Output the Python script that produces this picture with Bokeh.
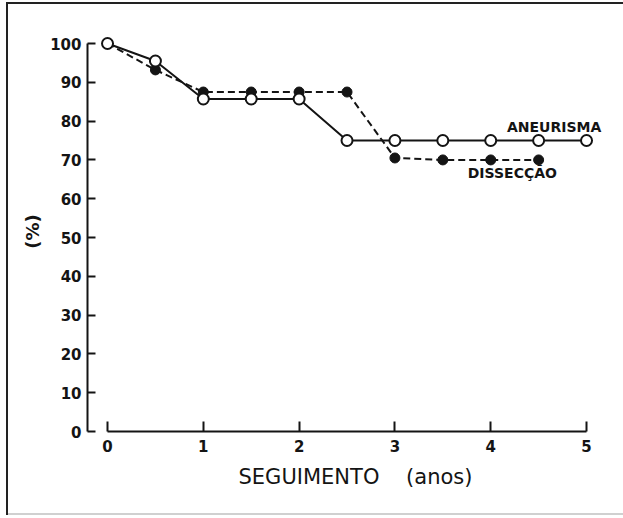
from bokeh.plotting import figure
from bokeh.models import Range1d, FixedTicker, LinearAxis
from bokeh.core.properties import value
from bokeh.embed import file_html
from bokeh.resources import INLINE

# ---- data ----
years_aneurisma = [0, 0.5, 1, 1.5, 2, 2.5, 3, 3.5, 4, 4.5, 5]
pct_aneurisma = [100, 95.5, 85.7, 85.7, 85.7, 75, 75, 75, 75, 75, 75]

years_disseccao = [0, 0.5, 1, 1.5, 2, 2.5, 3, 3.5, 4, 4.5]
pct_disseccao = [100, 93.2, 87.5, 87.5, 87.5, 87.5, 70.5, 70, 70, 70]

x_ticks = [0, 1, 2, 3, 4, 5]
y_ticks = [0, 10, 20, 30, 40, 50, 60, 70, 80, 90, 100]

series_names = ["ANEURISMA", "DISSECÇÃO"]
x_title = "SEGUIMENTO\u00a0\u00a0\u00a0\u00a0(anos)"
y_title = "(%)"

INK = "#141414"
FONT = "DejaVu Sans"

p = figure(
    output_backend="svg", toolbar_location=None,
    frame_width=536, frame_height=400,
    min_border_left=87, min_border_right=0, min_border_top=31, min_border_bottom=87,
    x_range=Range1d(-0.209, 5.386), y_range=Range1d(0, 103.1),
    background_fill_color="white", border_fill_color=None,
)
p.outline_line_color = None
p.grid.visible = False
p.styles = {"box-shadow": (
    "inset 6px 0 0 0 white, inset 0 2px 0 0 white, inset 0 -3px 0 0 white, "
    "inset 8px 0 0 0 #222, inset 0 4px 0 0 #222, inset 0 -5px 0 0 #d0d0d0"
)}

# axes
p.xaxis.bounds = (0, 5)
p.xaxis.ticker = FixedTicker(ticks=x_ticks)
p.yaxis.bounds = (0, 100)
p.yaxis.ticker = FixedTicker(ticks=y_ticks)
for ax in (p.xaxis, p.yaxis):
    ax.axis_line_color = INK
    ax.axis_line_width = 2
    ax.major_tick_line_color = INK
    ax.major_tick_line_width = 2
    ax.major_tick_out = 0
    ax.minor_tick_line_color = None
    ax.major_label_text_font = FONT
    ax.major_label_text_font_style = "bold"
    ax.major_label_text_font_size = "15px"
    ax.major_label_text_color = INK
    ax.axis_label_text_font = FONT
    ax.axis_label_text_color = INK
p.xaxis.major_tick_in = 10
p.yaxis.major_tick_in = 8
p.xaxis.major_label_standoff = 8
p.yaxis.major_label_standoff = 6

p.yaxis.axis_label = y_title
p.yaxis.axis_label_text_font_style = "bold"
p.yaxis.axis_label_text_font_size = "18px"
p.yaxis.axis_label_standoff = 4

# x title on a line-less helper axis, centred where the original title sits
title_axis = LinearAxis(ticker=FixedTicker(ticks=[]), bounds=(0, 5.34),
                        axis_line_color=None, major_tick_line_color=None,
                        minor_tick_line_color=None,
                        axis_label=x_title, axis_label_text_font=FONT,
                        axis_label_text_font_style="normal",
                        axis_label_text_font_size="21px", axis_label_text_color=INK,
                        axis_label_standoff=10)
p.add_layout(title_axis, "below")

# series
p.line(years_aneurisma, pct_aneurisma, line_color=INK, line_width=2)
p.line(years_disseccao, pct_disseccao, line_color=INK, line_width=2, line_dash="7 4")
p.scatter(years_disseccao, pct_disseccao, size=10, fill_color=INK, line_color=INK)
p.scatter(years_aneurisma, pct_aneurisma, size=11, fill_color="white", line_color=INK, line_width=2)

# series labels
p.text(x=[4.17], y=[78.4], text=[series_names[0]], text_font=value(FONT),
       text_font_style="bold", text_font_size="14px", text_color=INK,
       text_align="left", text_baseline="middle")
p.text(x=[3.76], y=[66.6], text=[series_names[1]], text_font=value(FONT),
       text_font_style="bold", text_font_size="14px", text_color=INK,
       text_align="left", text_baseline="middle")

open("out.html", "w").write(file_html(p, INLINE))
